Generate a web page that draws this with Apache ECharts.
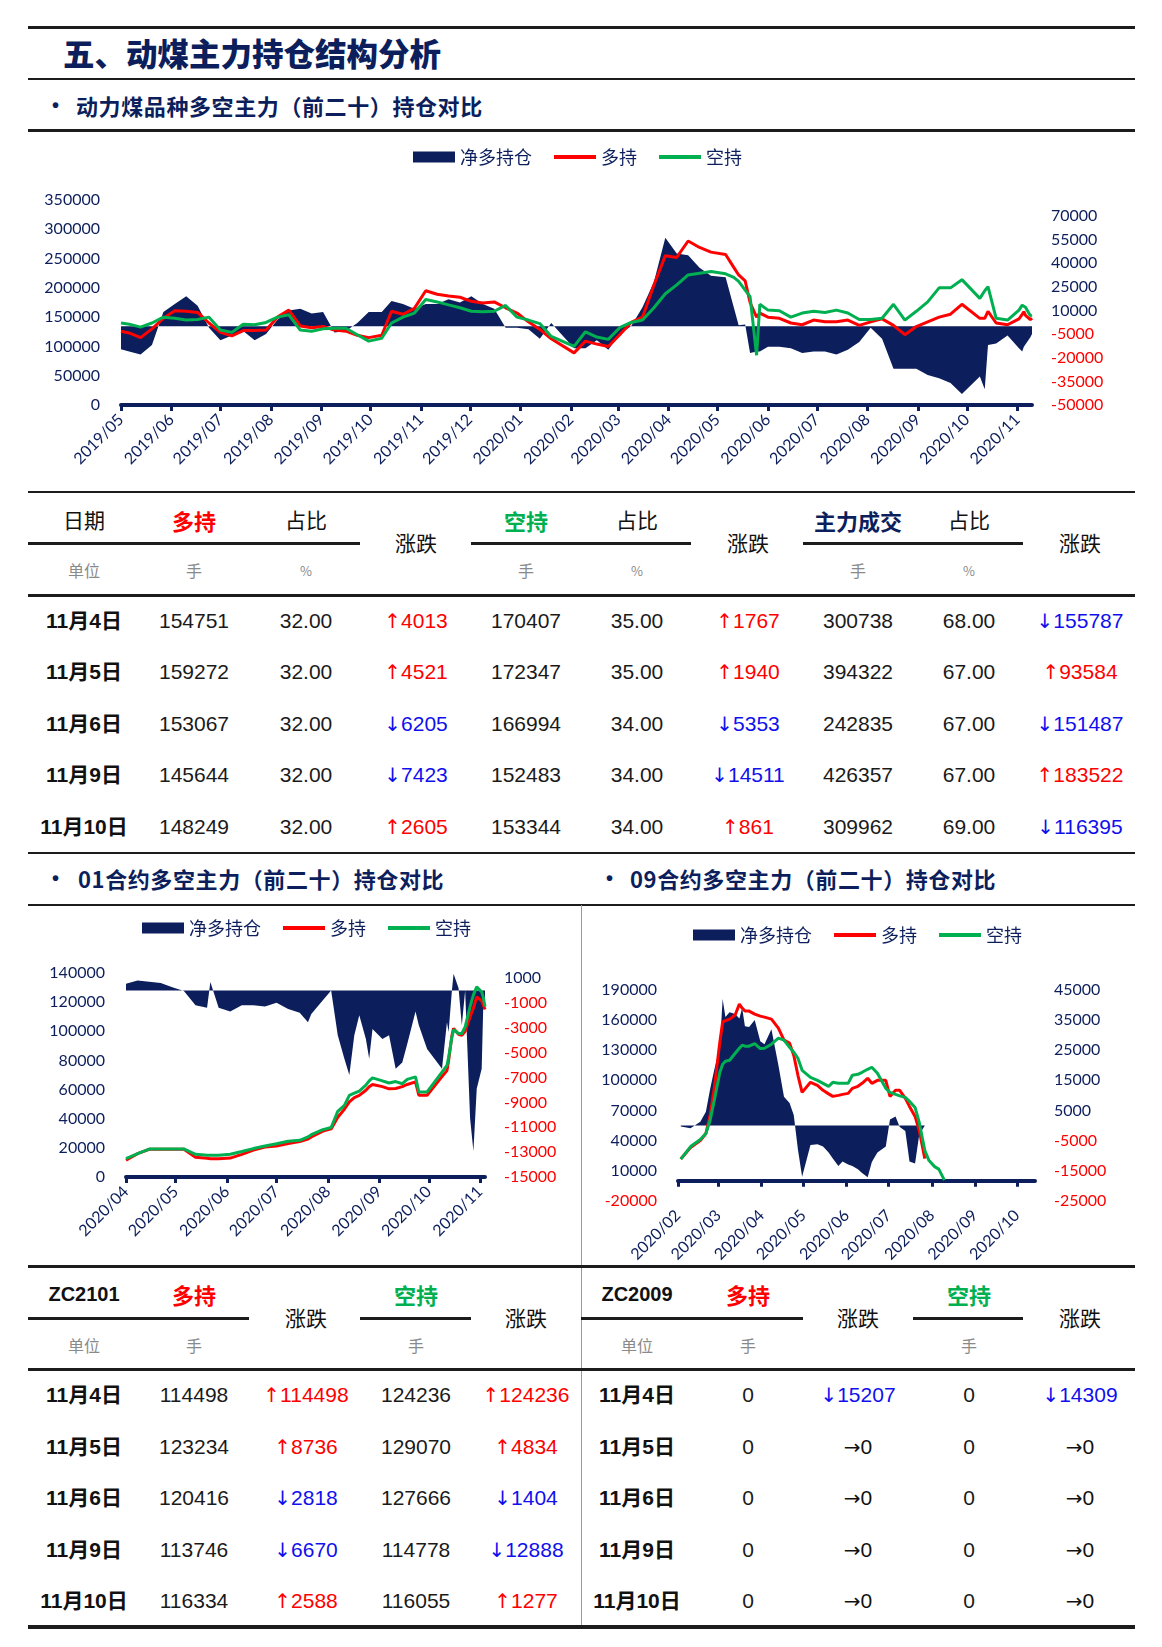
<!DOCTYPE html>
<html><head><meta charset="utf-8">
<script src="https://cdn.jsdelivr.net/npm/echarts@6.0.0/dist/echarts.min.js"></script>
<style>
html,body{margin:0;padding:0;background:#fff;}
#page{position:relative;width:1162px;height:1647px;overflow:hidden;background:#fff;font-family:"Liberation Sans","Noto Sans CJK SC",sans-serif;}
.ln{position:absolute;background:#1c1c1c;}
.t{position:absolute;white-space:nowrap;transform:translate(-50%,-50%);line-height:1.2;}
.tl{position:absolute;white-space:nowrap;transform:translate(0,-50%);line-height:1.2;}
.chart{position:absolute;}
.ar{font-family:"DejaVu Sans",sans-serif;font-size:20px;}
</style></head><body><div id="page"></div>
<script>
// ================= DATA =================
// Main chart: 动力煤品种多空主力（前二十）持仓
const mainMonths = ['2019-05','2019-06','2019-07','2019-08','2019-09','2019-10','2019-11','2019-12','2020-01','2020-02','2020-03','2020-04','2020-05','2020-06','2020-07','2020-08','2020-09','2020-10','2020-11'];
const mainDates = ['2019-05-01','2019-05-06','2019-05-13','2019-05-20','2019-05-27','2019-06-03','2019-06-10','2019-06-17','2019-06-24','2019-07-01','2019-07-08','2019-07-15','2019-07-22','2019-07-29','2019-08-05','2019-08-12','2019-08-19','2019-08-26','2019-09-02','2019-09-09','2019-09-16','2019-09-23','2019-09-30','2019-10-08','2019-10-14','2019-10-21','2019-10-28','2019-11-04','2019-11-11','2019-11-18','2019-11-25','2019-12-02','2019-12-09','2019-12-16','2019-12-23','2019-12-30','2020-01-06','2020-01-13','2020-01-20','2020-02-03','2020-02-10','2020-02-17','2020-02-24','2020-03-02','2020-03-09','2020-03-16','2020-03-23','2020-03-30','2020-04-06','2020-04-13','2020-04-20','2020-04-27','2020-05-06','2020-05-11','2020-05-14','2020-05-18','2020-05-21','2020-05-25','2020-05-27','2020-06-01','2020-06-08','2020-06-15','2020-06-22','2020-06-29','2020-07-06','2020-07-13','2020-07-20','2020-07-27','2020-08-03','2020-08-10','2020-08-17','2020-08-24','2020-08-31','2020-09-07','2020-09-14','2020-09-21','2020-09-28','2020-10-09','2020-10-12','2020-10-14','2020-10-19','2020-10-26','2020-11-02','2020-11-04','2020-11-05','2020-11-06','2020-11-09','2020-11-10'];
const mainLong = [126000,123000,115000,130000,148000,161000,160000,158000,140000,124000,118000,127000,127000,128000,150000,162000,135000,132000,134000,128000,126000,119000,115000,119000,160000,155000,165000,195000,189000,186000,184000,177000,174000,176000,166000,157000,142000,129000,113000,89000,109000,104000,100000,120000,141000,150000,205000,255000,252000,280000,269000,261000,257000,235000,222000,212000,175000,150000,157000,150000,148000,140000,137000,145000,142000,142000,145000,136000,142000,147000,136000,120000,134000,142000,150000,155000,172000,148000,148000,160000,140000,137000,147000,154751,159272,153067,145644,148249];
const mainShort = [140000,138000,133000,140000,150000,148000,145000,146000,150000,128000,124000,138000,137000,141000,150000,154000,128000,126000,130000,131000,131000,120000,109000,114000,140000,150000,157000,180000,176000,171000,166000,160000,159000,160000,170000,150000,145000,139000,117000,100000,125000,116000,112000,132000,141000,145000,166000,190000,205000,222000,225000,228000,224000,218000,211000,196000,185000,85000,172000,162000,161000,150000,157000,160000,158000,162000,157000,146000,146000,148000,172000,145000,160000,176000,200000,200000,214000,182000,195000,202000,148000,145000,162000,170407,172347,166994,152483,153344];
const mainNet = [-14700,-16000,-18000,-12000,9000,14000,19000,13000,-1000,-9000,-6000,-3000,-9000,-5000,4000,10000,11000,8000,9000,-4000,-3000,2000,9000,9000,16000,14000,11000,14000,14000,17000,15000,19000,14000,11000,-1000,-1000,-2000,-8000,2000,-14000,-14000,-9000,-15000,-5000,0,12000,28000,56000,46000,45000,37000,32000,31000,12000,500,1000,-17000,-16000,-16000,-13000,-13000,-14000,-17000,-16000,-16000,-18000,-15000,-10000,-1000,-8000,-27000,-27000,-27000,-31000,-33000,-36000,-43000,-32000,-40000,-12000,-11000,-6000,-14000,-16000,-13000,-14000,-7000,-5000];

// 01 contract chart
const c01Months = ['2020-04','2020-05','2020-06','2020-07','2020-08','2020-09','2020-10','2020-11'];
const c01Dates = ['2020-04-01','2020-04-08','2020-04-15','2020-04-22','2020-04-29','2020-05-06','2020-05-13','2020-05-20','2020-05-22','2020-05-27','2020-06-03','2020-06-10','2020-06-17','2020-06-24','2020-07-01','2020-07-08','2020-07-15','2020-07-20','2020-07-22','2020-07-29','2020-08-03','2020-08-07','2020-08-11','2020-08-14','2020-08-17','2020-08-20','2020-08-24','2020-08-26','2020-08-28','2020-09-03','2020-09-07','2020-09-11','2020-09-15','2020-09-18','2020-09-23','2020-09-25','2020-09-30','2020-10-09','2020-10-12','2020-10-13','2020-10-15','2020-10-16','2020-10-19','2020-10-21','2020-10-23','2020-10-26','2020-10-28','2020-10-30','2020-11-02','2020-11-03','2020-11-04'];
const c01Long = [11500,16000,19000,19000,19000,19000,13500,12800,12600,12600,13000,15500,18500,20500,21300,23000,24300,26000,27500,31500,33000,41000,46500,51500,54500,56000,59500,62000,63500,62000,60500,60700,62000,63500,65300,56100,56100,69000,73000,80000,97000,102000,98000,97300,100000,110000,116000,123600,121000,118000,115000];
const c01Short = [12600,16000,19200,19200,19300,19300,15600,15000,14900,15000,15600,17500,19500,21300,22800,24500,25200,27500,29000,32500,34000,45000,49200,56000,57500,59000,63000,66000,68000,66000,64500,65500,64000,67000,68700,58400,58400,72000,76500,82000,96000,101000,98500,98500,103000,117000,125000,130500,127000,123000,117000];
const c01Net = [540,800,700,600,250,-50,-1200,-1400,670,-1400,-1700,-1200,-1200,-1300,-1000,-1500,-1800,-2550,-1900,-800,0,-3600,-5500,-6800,-3600,-2000,-3900,-5500,-3100,-3900,-3600,-6300,-5800,-4300,-1700,-2800,-4700,-6300,-2550,-3350,0,1340,200,-2800,0,-10300,-12900,-7900,-6300,-940,-500];

// 09 contract chart
const c09Months = ['2020-02','2020-03','2020-04','2020-05','2020-06','2020-07','2020-08','2020-09','2020-10'];
const c09Dates = ['2020-02-03','2020-02-10','2020-02-17','2020-02-21','2020-02-24','2020-02-27','2020-03-02','2020-03-04','2020-03-06','2020-03-09','2020-03-13','2020-03-16','2020-03-18','2020-03-20','2020-03-23','2020-03-27','2020-03-31','2020-04-03','2020-04-08','2020-04-13','2020-04-17','2020-04-21','2020-04-24','2020-04-27','2020-04-30','2020-05-06','2020-05-11','2020-05-15','2020-05-19','2020-05-22','2020-05-26','2020-05-29','2020-06-02','2020-06-05','2020-06-09','2020-06-12','2020-06-16','2020-06-19','2020-06-23','2020-06-29','2020-07-02','2020-07-06','2020-07-09','2020-07-13','2020-07-16','2020-07-20','2020-07-23','2020-07-27','2020-07-30','2020-08-03','2020-08-06','2020-08-10'];
const c09Long = [21500,33000,40000,47000,65000,92000,138000,158000,159500,161000,165000,176000,172000,169000,169000,166000,164000,163000,161000,152000,140000,137000,125000,105000,88000,98000,95000,90000,86500,84000,85000,86000,87000,92000,94000,97000,102000,97000,100000,100000,84000,90000,90000,82000,74000,64000,50000,22000,null,null,null,null];
const c09Short = [21500,34000,41000,47000,60000,80000,108000,116000,119000,120000,127000,132000,135000,134000,134000,136500,131600,132000,136000,142000,140000,133000,128000,122000,110000,103000,100000,97000,94000,98000,97000,97000,97000,105000,106000,108000,111000,113000,107000,92000,88000,86000,84500,83000,79000,73000,58000,30000,20000,14000,11500,500];
const c09Net = [-300,-900,1200,4600,12000,18500,26000,42000,36000,37600,37000,35500,39000,33000,32700,35000,28000,27000,32000,20000,9500,7500,3500,-8000,-17000,-6500,-6200,-7000,-9000,-11000,-13500,-12000,-13000,-13500,-14500,-15800,-17200,-12100,-9000,-7000,2000,3000,-500,-1800,-12000,-12600,-3000,0,0,0,null,null];

// Table 1: 动力煤品种
const t1Dates = ['11月4日','11月5日','11月6日','11月9日','11月10日'];
const t1Long = [154751,159272,153067,145644,148249];
const t1LongPct = ['32.00','32.00','32.00','32.00','32.00'];
const t1LongChg = [4013,4521,-6205,-7423,2605];
const t1Short = [170407,172347,166994,152483,153344];
const t1ShortPct = ['35.00','35.00','34.00','34.00','34.00'];
const t1ShortChg = [1767,1940,-5353,-14511,861];
const t1Vol = [300738,394322,242835,426357,309962];
const t1VolPct = ['68.00','67.00','67.00','67.00','69.00'];
const t1VolChg = [-155787,93584,-151487,183522,-116395];

// Table 2: ZC2101 / ZC2009
const t2Dates = ['11月4日','11月5日','11月6日','11月9日','11月10日'];
const zc2101Long = [114498,123234,120416,113746,116334];
const zc2101LongChg = [114498,8736,-2818,-6670,2588];
const zc2101Short = [124236,129070,127666,114778,116055];
const zc2101ShortChg = [124236,4834,-1404,-12888,1277];
const zc2009Long = [0,0,0,0,0];
const zc2009LongChg = [-15207,0,0,0,0];
const zc2009Short = [0,0,0,0,0];
const zc2009ShortChg = [-14309,0,0,0,0];

// ================= LAYOUT =================
const NAVY = '#0c1f5c', RED = '#ff0000', GREEN = '#00b050', BLUE = '#1010ee';
const CJK = '"Noto Sans CJK SC", sans-serif';
const page = document.getElementById('page');

function hline(x1, x2, y, h, color) {
  const d = document.createElement('div');
  d.className = 'ln';
  d.style.cssText = `left:${x1}px;width:${x2 - x1}px;top:${y - h / 2}px;height:${h}px;` + (color ? `background:${color};` : '');
  page.appendChild(d);
}
function vline(x, y1, y2, w, color) {
  const d = document.createElement('div');
  d.className = 'ln';
  d.style.cssText = `left:${x}px;width:${w}px;top:${y1}px;height:${y2 - y1}px;background:${color};`;
  page.appendChild(d);
}
function txt(x, y, s, style, left) {
  const d = document.createElement('div');
  d.className = left ? 'tl' : 't';
  d.style.cssText = `left:${x}px;top:${y}px;` + (style || '');
  d.innerHTML = s;
  page.appendChild(d);
}
function chg(v) {
  if (v > 0) return `<span style="color:${RED}"><span class="ar">↑</span>${v}</span>`;
  if (v < 0) return `<span style="color:${BLUE}"><span class="ar">↓</span>${-v}</span>`;
  return `<span style="color:#111"><span class="ar">→</span>0</span>`;
}

// header lines & titles
const secTitle = `font-family:${CJK};font-size:22px;font-weight:bold;color:${NAVY};letter-spacing:0.6px;`;
hline(28, 1135, 27.5, 3);
txt(63, 53, '五、动煤主力持仓结构分析', `font-family:${CJK};font-size:31.5px;font-weight:900;color:${NAVY};`, true);
hline(28, 1135, 79, 2);
txt(52, 105, '•', `font-size:20px;font-weight:bold;color:${NAVY};`, true);
txt(76, 105, '动力煤品种多空主力（前二十）持仓对比', secTitle, true);
hline(28, 1135, 130.5, 3);
hline(28, 1135, 492, 2.5);

// Table 1
const c1x = [84, 194, 306, 416, 526, 637, 748, 858, 969, 1080];
const hdr = `font-family:${CJK};font-size:21px;color:#111;`;
const hdrB = `font-family:${CJK};font-size:22px;font-weight:bold;`;
const unit = `font-family:${CJK};font-size:16px;color:#8a8a8a;`;
txt(c1x[0], 520, '日期', hdr);
txt(c1x[1], 520, '多持', hdrB + `color:${RED};`);
txt(c1x[2], 520, '占比', hdr);
txt(c1x[3], 543, '涨跌', hdr);
txt(c1x[4], 520, '空持', hdrB + `color:${GREEN};`);
txt(c1x[5], 520, '占比', hdr);
txt(c1x[6], 543, '涨跌', hdr);
txt(c1x[7], 520, '主力成交', hdrB + `color:${NAVY};`);
txt(c1x[8], 520, '占比', hdr);
txt(c1x[9], 543, '涨跌', hdr);
hline(28, 360, 543.5, 3); hline(471, 691, 543.5, 3); hline(803, 1023, 543.5, 3);
txt(c1x[0], 571, '单位', unit); txt(c1x[1], 571, '手', unit); txt(c1x[2], 571, '%', unit + 'font-size:13px;');
txt(c1x[4], 571, '手', unit); txt(c1x[5], 571, '%', unit + 'font-size:13px;');
txt(c1x[7], 571, '手', unit); txt(c1x[8], 571, '%', unit + 'font-size:13px;');
hline(28, 1135, 595.5, 3.5);
const r1y = [621, 672, 724, 775, 827];
const num = 'font-size:21px;color:#1a1a1a;';
const dateS = `font-family:"Liberation Sans",${CJK};font-size:21px;font-weight:bold;color:#111;`;
t1Dates.forEach((d, i) => {
  const y = r1y[i];
  txt(c1x[0], y, d, dateS);
  txt(c1x[1], y, t1Long[i], num);
  txt(c1x[2], y, t1LongPct[i], num);
  txt(c1x[3], y, chg(t1LongChg[i]), num);
  txt(c1x[4], y, t1Short[i], num);
  txt(c1x[5], y, t1ShortPct[i], num);
  txt(c1x[6], y, chg(t1ShortChg[i]), num);
  txt(c1x[7], y, t1Vol[i], num);
  txt(c1x[8], y, t1VolPct[i], num);
  txt(c1x[9], y, chg(t1VolChg[i]), num);
});
hline(28, 1135, 853, 2.5);

// section titles
txt(52, 878, '•', `font-size:20px;font-weight:bold;color:${NAVY};`, true);
txt(78, 878, '01合约多空主力（前二十）持仓对比', secTitle, true);
txt(606, 878, '•', `font-size:20px;font-weight:bold;color:${NAVY};`, true);
txt(630, 878, '09合约多空主力（前二十）持仓对比', secTitle, true);
hline(28, 1135, 905, 2.5);
vline(580.5, 905, 1627, 1.2, '#9a9a9a');

// Table 2
hline(28, 1135, 1266.5, 3);
const c2x = [84, 194, 306, 416, 526, 637, 748, 858, 969, 1080];
const zcS = 'font-size:20px;font-weight:bold;color:#111;';
txt(c2x[0], 1294, 'ZC2101', zcS);
txt(c2x[1], 1294, '多持', hdrB + `color:${RED};`);
txt(c2x[2], 1318, '涨跌', hdr);
txt(c2x[3], 1294, '空持', hdrB + `color:${GREEN};`);
txt(c2x[4], 1318, '涨跌', hdr);
txt(c2x[5], 1294, 'ZC2009', zcS);
txt(c2x[6], 1294, '多持', hdrB + `color:${RED};`);
txt(c2x[7], 1318, '涨跌', hdr);
txt(c2x[8], 1294, '空持', hdrB + `color:${GREEN};`);
txt(c2x[9], 1318, '涨跌', hdr);
hline(28, 249, 1318.5, 3); hline(360, 471, 1318.5, 3); hline(581, 803, 1318.5, 3); hline(913, 1023, 1318.5, 3);
txt(c2x[0], 1346, '单位', unit); txt(c2x[1], 1346, '手', unit); txt(c2x[3], 1346, '手', unit);
txt(c2x[5], 1346, '单位', unit); txt(c2x[6], 1346, '手', unit); txt(c2x[8], 1346, '手', unit);
hline(28, 1135, 1369.5, 3.5);
const r2y = [1395, 1447, 1498, 1550, 1601];
t2Dates.forEach((d, i) => {
  const y = r2y[i];
  txt(c2x[0], y, d, dateS);
  txt(c2x[1], y, zc2101Long[i], num);
  txt(c2x[2], y, chg(zc2101LongChg[i]), num);
  txt(c2x[3], y, zc2101Short[i], num);
  txt(c2x[4], y, chg(zc2101ShortChg[i]), num);
  txt(c2x[5], y, d, dateS);
  txt(c2x[6], y, zc2009Long[i], num);
  txt(c2x[7], y, chg(zc2009LongChg[i]), num);
  txt(c2x[8], y, zc2009Short[i], num);
  txt(c2x[9], y, chg(zc2009ShortChg[i]), num);
});
hline(28, 1135, 1627, 3.5);

// ================= CHARTS =================
function ts(s) { const p = s.split('-').map(Number); return new Date(p[0], p[1] - 1, p[2] || 1).getTime(); }
function zip(dates, vals) { return dates.map((d, i) => [ts(d), vals[i]]); }
function fmtMonth(v) { const d = new Date(Number(v) + 3600000 * 12); return d.getFullYear() + '/' + String(d.getMonth() + 1).padStart(2, '0'); }
const LABEL_FONT = 'Lato, "Noto Sans", sans-serif';
const negRed = (v) => (Number(v) < 0 ? RED : NAVY);
const plain = (v) => String(Math.round(Number(v)));

function buildChart(box, cfg) {
  const el = document.createElement('div');
  el.className = 'chart';
  el.style.cssText = `left:${box.x}px;top:${box.y}px;width:${box.w}px;height:${box.h}px;`;
  page.appendChild(el);
  const chart = echarts.init(el, null, { renderer: 'canvas' });
  const ticks = cfg.months.map(ts);
  const yAxisCommon = {
    type: 'value', splitLine: { show: false }, axisLine: { show: false }, axisTick: { show: false }
  };
  chart.setOption({
    animation: false,
    legend: {
      left: cfg.legendLeft, top: cfg.legendTop, padding: 0,
      itemWidth: 42, itemHeight: 11, itemGap: 20,
      textStyle: { fontSize: 18, color: NAVY, fontFamily: CJK },
      data: [
        { name: '净多持仓', icon: 'rect', itemStyle: { color: NAVY, opacity: 1 } },
        { name: '多持', itemStyle: { opacity: 0, borderWidth: 0 }, lineStyle: { width: 4, color: RED } },
        { name: '空持', itemStyle: { opacity: 0, borderWidth: 0 }, lineStyle: { width: 4, color: GREEN } }
      ]
    },
    grid: cfg.grid,
    xAxis: {
      type: 'value', min: ts(cfg.xMin), max: ts(cfg.xMax), scale: true,
      axisLine: { onZero: true, onZeroAxisIndex: 0, lineStyle: { color: NAVY, width: 4 } },
      axisTick: { show: true, customValues: ticks, length: 6, lineStyle: { color: NAVY, width: 3 } },
      axisLabel: { customValues: ticks, rotate: 45, formatter: fmtMonth, color: NAVY, fontSize: 16, fontFamily: LABEL_FONT, margin: 12, hideOverlap: false },
      splitLine: { show: false }
    },
    yAxis: [
      Object.assign({}, yAxisCommon, {
        position: 'left', min: cfg.left[0], max: cfg.left[1], interval: cfg.left[2],
        axisLabel: { color: negRed, formatter: plain, fontSize: 16, fontFamily: LABEL_FONT, margin: 21 }
      }),
      Object.assign({}, yAxisCommon, {
        position: 'right', min: cfg.right[0], max: cfg.right[1], interval: cfg.right[2],
        axisLabel: { color: negRed, formatter: plain, fontSize: 16, fontFamily: LABEL_FONT, margin: 19, showMaxLabel: cfg.right[3] }
      })
    ],
    series: [
      { name: '净多持仓', type: 'line', yAxisIndex: 1, data: cfg.net, symbol: 'none', color: NAVY,
        lineStyle: { width: 0, opacity: 0 }, areaStyle: { color: NAVY, opacity: 1 }, z: 1 },
      { name: '多持', type: 'line', yAxisIndex: 0, data: cfg.long, symbol: 'none', color: RED,
        lineStyle: { width: 3, color: RED }, z: 3 },
      { name: '空持', type: 'line', yAxisIndex: 0, data: cfg.short, symbol: 'none', color: GREEN,
        lineStyle: { width: 3, color: GREEN }, z: 4 }
    ]
  });
}

buildChart({ x: 0, y: 135, w: 1162, h: 355 }, {
  months: mainMonths, xMin: '2019-05-01', xMax: '2020-11-10',
  legendLeft: 413, legendTop: 13,
  grid: { left: 121, right: 130, top: 65, bottom: 85 },
  left: [0, 350000, 50000], right: [-50000, 80000, 15000, false],
  net: zip(mainDates, mainNet), long: zip(mainDates, mainLong), short: zip(mainDates, mainShort)
});
buildChart({ x: 0, y: 905, w: 581, h: 360 }, {
  months: c01Months, xMin: '2020-04-01', xMax: '2020-11-04',
  legendLeft: 142, legendTop: 14,
  grid: { left: 126, right: 96, top: 68, bottom: 88 },
  left: [0, 140000, 20000], right: [-15000, 1400, 2000, false],
  net: zip(c01Dates, c01Net), long: zip(c01Dates, c01Long), short: zip(c01Dates, c01Short)
});
buildChart({ x: 581, y: 905, w: 581, h: 360 }, {
  months: c09Months, xMin: '2020-02-01', xMax: '2020-10-14',
  legendLeft: 112, legendTop: 21,
  grid: { left: 97, right: 127, top: 85, bottom: 56 },
  left: [-20000, 190000, 30000], right: [-25000, 45000, 10000, true],
  net: zip(c09Dates, c09Net), long: zip(c09Dates, c09Long), short: zip(c09Dates, c09Short)
});
</script></body></html>
